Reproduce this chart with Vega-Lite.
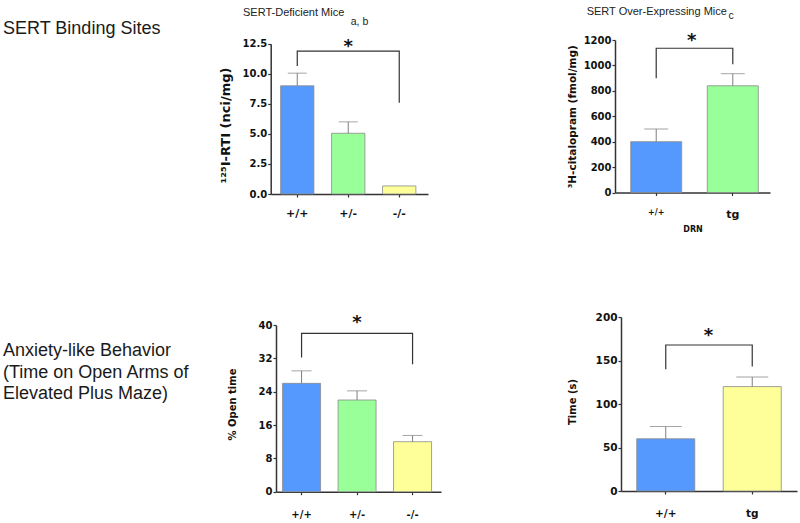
{
  "$schema": "https://vega.github.io/schema/vega-lite/v6.json",
  "padding": {"left": 3, "top": 5, "right": 2, "bottom": 2},
  "columns": 3,
  "align": "each",
  "bounds": "flush",
  "spacing": {"row": 123, "column": 180},
  "datasets": {
    "tl_bars": [{"g": "+/+", "v": 9.0, "u": 10.05}, {"g": "+/-", "v": 5.05, "u": 6.0}, {"g": "-/-", "v": 0.67, "u": null}],
    "tl_br": [{"g": "+/+", "v": 10.64, "o": 1}, {"g": "+/+", "v": 11.89, "o": 2}, {"g": "-/-", "v": 11.89, "o": 3}, {"g": "-/-", "v": 7.58, "o": 4}],
    "tl_star": [{"g": "+/-", "v": 11.85}],
    "tl_sub": [{"g": "+/-", "v": 14.02, "t": "a, b"}],
    "tr_bars": [{"g": "+/+", "v": 400, "u": 500}, {"g": "tg", "v": 840, "u": 935}],
    "tr_br": [{"g": "+/+", "v": 900, "o": 1}, {"g": "+/+", "v": 1135, "o": 2}, {"g": "tg", "v": 1135, "o": 3}, {"g": "tg", "v": 1010, "o": 4}],
    "tr_star": [{"g": "+/+", "v": 1150}],
    "tr_sub": [{"g": "tg", "v": 1363, "t": "c"}],
    "bl_bars": [{"g": "+/+", "v": 26, "u": 29}, {"g": "+/-", "v": 22, "u": 24.2}, {"g": "-/-", "v": 12, "u": 13.5}],
    "bl_br": [{"g": "+/+", "v": 32.2, "o": 1}, {"g": "+/+", "v": 38, "o": 2}, {"g": "-/-", "v": 38, "o": 3}, {"g": "-/-", "v": 30.6, "o": 4}],
    "bl_star": [{"g": "+/-", "v": 39.2}],
    "br_bars": [{"g": "+/+", "v": 60, "u": 74}, {"g": "tg", "v": 120, "u": 131}],
    "br_br": [{"g": "+/+", "v": 140, "o": 1}, {"g": "+/+", "v": 167.8, "o": 2}, {"g": "tg", "v": 167.8, "o": 3}, {"g": "tg", "v": 143, "o": 4}],
    "br_star": [{"g": "+/+", "v": 172}]
  },
  "concat": [
    {
      "width": 93, "height": 20,
      "data": {"values": []},
      "mark": "point",
      "title": {"text": "SERT Binding Sites", "anchor": "start", "frame": "group", "align": "left", "offset": 2, "fontSize": 18, "font": "Liberation Sans", "fontWeight": "normal", "color": "#1a1a1a"}
    },
    {
      "width": 152, "height": 154,
      "title": {"text": "SERT-Deficient Mice", "anchor": "start", "frame": "group", "align": "left", "dx": -33, "offset": -0.5, "fontSize": 11, "font": "Liberation Sans", "fontWeight": "normal", "color": "#222"},
      "layer": [
        {
          "data": {"name": "tl_bars"},
          "mark": {"type": "bar", "stroke": "#8a8a8a", "strokeWidth": 0.8},
          "encoding": {
            "x": {"field": "g", "type": "nominal", "scale": {"type": "band", "domain": ["+/+", "+/-", "-/-"], "range": [-5.3, 152], "paddingInner": 0.347, "paddingOuter": 0.216, "align": 0.45}, "axis": {"title": null, "labelFontSize": 11, "labelPadding": 10.4}},
            "y": {"field": "v", "type": "quantitative", "scale": {"domain": [0, 12.5], "range": [154, 3.7], "nice": false}, "axis": {"values": [0, 2.5, 5, 7.5, 10, 12.5], "tickCount": 12, "format": ".1f", "labelOverlap": false, "offset": 5.3, "title": "\u00b9\u00b2\u2075I-RTI (nci/mg)", "titleFontSize": 13, "titlePadding": 9.6, "titleY": 85, "labelFontSize": 10}},
            "color": {"field": "g", "type": "nominal", "scale": {"domain": ["+/+", "+/-", "-/-"], "range": ["#5599ff", "#99ff99", "#ffff99"]}, "legend": null}
          }
        },
        {
          "data": {"name": "tl_bars"},
          "transform": [{"filter": "isValid(datum.u)"}],
          "mark": {"type": "rule", "color": "#7f7f7f", "strokeWidth": 1},
          "encoding": {"x": {"field": "g", "type": "nominal"}, "y": {"field": "v", "type": "quantitative"}, "y2": {"field": "u"}}
        },
        {
          "data": {"name": "tl_bars"},
          "transform": [{"filter": "isValid(datum.u)"}],
          "mark": {"type": "tick", "color": "#7f7f7f", "size": 19, "thickness": 1},
          "encoding": {"x": {"field": "g", "type": "nominal"}, "y": {"field": "u", "type": "quantitative"}}
        },
        {
          "data": {"name": "tl_br"},
          "mark": {"type": "line", "color": "#333", "strokeWidth": 1.2},
          "encoding": {"x": {"field": "g", "type": "nominal"}, "y": {"field": "v", "type": "quantitative"}, "order": {"field": "o"}}
        },
        {
          "data": {"name": "tl_star"},
          "mark": {"type": "text", "text": "*", "font": "DejaVu Sans", "fontWeight": "bold", "fontSize": 18, "baseline": "alphabetic", "color": "#111"},
          "encoding": {"x": {"field": "g", "type": "nominal"}, "y": {"field": "v", "type": "quantitative"}}
        },
        {
          "data": {"name": "tl_sub"},
          "mark": {"type": "text", "font": "Liberation Sans", "fontSize": 10.5, "baseline": "alphabetic", "align": "center", "color": "#222"},
          "encoding": {"x": {"field": "g", "type": "nominal", "bandPosition": 0.838}, "y": {"field": "v", "type": "quantitative"}, "text": {"field": "t"}}
        }
      ]
    },
    {
      "width": 149, "height": 152.5,
      "title": {"text": "SERT Over-Expressing Mice", "anchor": "start", "frame": "group", "align": "left", "dx": -34.3, "offset": -5.7, "fontSize": 11, "font": "Liberation Sans", "fontWeight": "normal", "color": "#222"},
      "layer": [
        {
          "data": {"name": "tr_bars"},
          "mark": {"type": "bar", "stroke": "#8a8a8a", "strokeWidth": 0.8},
          "encoding": {
            "x": {"field": "g", "type": "nominal", "scale": {"type": "band", "domain": ["+/+", "tg"], "range": [-6, 149], "paddingInner": 0.334, "paddingOuter": 0.179, "align": 0.573}, "axis": {"title": "DRN", "titleFontSize": 8, "titlePadding": 6, "labelFontSize": {"expr": "datum.value == 'tg' ? 11 : 8"}, "labelPadding": 13}},
            "y": {"field": "v", "type": "quantitative", "scale": {"domain": [0, 1200], "nice": false}, "axis": {"values": [0, 200, 400, 600, 800, 1000, 1200], "tickCount": 12, "format": "d", "labelOverlap": false, "offset": 6, "title": "\u00b3H-citalopram (fmol/mg)", "titleFontSize": 10.5, "titlePadding": 5.5, "labelFontSize": 10}},
            "color": {"field": "g", "type": "nominal", "scale": {"domain": ["+/+", "tg"], "range": ["#5599ff", "#99ff99"]}, "legend": null}
          }
        },
        {
          "data": {"name": "tr_bars"},
          "mark": {"type": "rule", "color": "#7f7f7f", "strokeWidth": 1},
          "encoding": {"x": {"field": "g", "type": "nominal"}, "y": {"field": "v", "type": "quantitative"}, "y2": {"field": "u"}}
        },
        {
          "data": {"name": "tr_bars"},
          "mark": {"type": "tick", "color": "#7f7f7f", "size": 24, "thickness": 1},
          "encoding": {"x": {"field": "g", "type": "nominal"}, "y": {"field": "u", "type": "quantitative"}}
        },
        {
          "data": {"name": "tr_br"},
          "mark": {"type": "line", "color": "#333", "strokeWidth": 1.2},
          "encoding": {"x": {"field": "g", "type": "nominal"}, "y": {"field": "v", "type": "quantitative"}, "order": {"field": "o"}}
        },
        {
          "data": {"name": "tr_star"},
          "mark": {"type": "text", "text": "*", "font": "DejaVu Sans", "fontWeight": "bold", "fontSize": 18, "baseline": "alphabetic", "color": "#111"},
          "encoding": {"x": {"field": "g", "type": "nominal", "bandPosition": 1.196}, "y": {"field": "v", "type": "quantitative"}}
        },
        {
          "data": {"name": "tr_sub"},
          "mark": {"type": "text", "font": "Liberation Sans", "fontSize": 10.5, "baseline": "alphabetic", "align": "center", "color": "#222"},
          "encoding": {"x": {"field": "g", "type": "nominal", "bandPosition": 0.465}, "y": {"field": "v", "type": "quantitative"}, "text": {"field": "t"}}
        }
      ]
    },
    {
      "width": 93, "height": 23,
      "data": {"values": []},
      "mark": "point",
      "title": {"text": ["Anxiety-like Behavior", "(Time on Open Arms of", "Elevated Plus Maze)"], "orient": "bottom", "anchor": "start", "frame": "group", "align": "left", "offset": 2, "fontSize": 18, "lineHeight": 21.7, "font": "Liberation Sans", "fontWeight": "normal", "color": "#1a1a1a"}
    },
    {
      "width": 165, "height": 174.7,
      "layer": [
        {
          "data": {"name": "bl_bars"},
          "mark": {"type": "bar", "stroke": "#8a8a8a", "strokeWidth": 0.8},
          "encoding": {
            "x": {"field": "g", "type": "nominal", "scale": {"type": "band", "domain": ["+/+", "+/-", "-/-"], "paddingInner": 0.315, "paddingOuter": 0.144, "align": 0.41}, "axis": {"title": null, "labelFontSize": 10, "labelPadding": 14.4}},
            "y": {"field": "v", "type": "quantitative", "scale": {"domain": [0, 40], "range": [174.7, 8], "nice": false}, "axis": {"values": [0, 8, 16, 24, 32, 40], "tickCount": 12, "labelOverlap": false, "title": "% Open time", "titleFontSize": 10, "titlePadding": 20.7, "titleY": 87, "labelFontSize": 10}},
            "color": {"field": "g", "type": "nominal", "scale": {"domain": ["+/+", "+/-", "-/-"], "range": ["#5599ff", "#99ff99", "#ffff99"]}, "legend": null}
          }
        },
        {
          "data": {"name": "bl_bars"},
          "mark": {"type": "rule", "color": "#7f7f7f", "strokeWidth": 1},
          "encoding": {"x": {"field": "g", "type": "nominal"}, "y": {"field": "v", "type": "quantitative"}, "y2": {"field": "u"}}
        },
        {
          "data": {"name": "bl_bars"},
          "mark": {"type": "tick", "color": "#7f7f7f", "size": 20, "thickness": 1},
          "encoding": {"x": {"field": "g", "type": "nominal"}, "y": {"field": "u", "type": "quantitative"}}
        },
        {
          "data": {"name": "bl_br"},
          "mark": {"type": "line", "color": "#333", "strokeWidth": 1.2},
          "encoding": {"x": {"field": "g", "type": "nominal"}, "y": {"field": "v", "type": "quantitative"}, "order": {"field": "o"}}
        },
        {
          "data": {"name": "bl_star"},
          "mark": {"type": "text", "text": "*", "font": "DejaVu Sans", "fontWeight": "bold", "fontSize": 18, "baseline": "alphabetic", "color": "#111"},
          "encoding": {"x": {"field": "g", "type": "nominal"}, "y": {"field": "v", "type": "quantitative"}}
        }
      ]
    },
    {
      "width": 176, "height": 174,
      "layer": [
        {
          "data": {"name": "br_bars"},
          "mark": {"type": "bar", "stroke": "#8a8a8a", "strokeWidth": 0.8},
          "encoding": {
            "x": {"field": "g", "type": "nominal", "scale": {"type": "band", "domain": ["+/+", "tg"], "paddingInner": 0.329, "paddingOuter": 0.182, "align": 0.5}, "axis": {"title": null, "labelFontSize": 10.5, "labelPadding": 14.9}},
            "y": {"field": "v", "type": "quantitative", "scale": {"domain": [0, 200], "nice": false}, "axis": {"values": [0, 50, 100, 150, 200], "tickCount": 12, "labelOverlap": false, "title": "Time (s)", "titleFontSize": 10, "titlePadding": 17.7, "titleY": 84.5, "labelFontSize": 10.5}},
            "color": {"field": "g", "type": "nominal", "scale": {"domain": ["+/+", "tg"], "range": ["#5599ff", "#ffff99"]}, "legend": null}
          }
        },
        {
          "data": {"name": "br_bars"},
          "mark": {"type": "rule", "color": "#7f7f7f", "strokeWidth": 1},
          "encoding": {"x": {"field": "g", "type": "nominal"}, "y": {"field": "v", "type": "quantitative"}, "y2": {"field": "u"}}
        },
        {
          "data": {"name": "br_bars"},
          "mark": {"type": "tick", "color": "#7f7f7f", "size": 32, "thickness": 1},
          "encoding": {"x": {"field": "g", "type": "nominal"}, "y": {"field": "u", "type": "quantitative"}}
        },
        {
          "data": {"name": "br_br"},
          "mark": {"type": "line", "color": "#333", "strokeWidth": 1.2},
          "encoding": {"x": {"field": "g", "type": "nominal"}, "y": {"field": "v", "type": "quantitative"}, "order": {"field": "o"}}
        },
        {
          "data": {"name": "br_star"},
          "mark": {"type": "text", "text": "*", "font": "DejaVu Sans", "fontWeight": "bold", "fontSize": 18, "baseline": "alphabetic", "color": "#111"},
          "encoding": {"x": {"field": "g", "type": "nominal", "bandPosition": 1.234}, "y": {"field": "v", "type": "quantitative"}}
        }
      ]
    }
  ],
  "resolve": {"scale": {"color": "independent", "x": "independent", "y": "independent"}},
  "config": {
    "view": {"stroke": null},
    "font": "Liberation Sans",
    "axis": {"grid": false, "domainColor": "#333", "domainWidth": 1.5, "tickColor": "#333", "tickWidth": 1.2, "tickSize": 3, "labelFont": "DejaVu Sans", "labelFontWeight": "bold", "labelColor": "#111", "labelPadding": 1, "titleFont": "DejaVu Sans", "titleFontWeight": "bold", "titleColor": "#111", "labelFlush": false, "labelOverlap": false},
    "axisX": {"labelAngle": 0}
  }
}
